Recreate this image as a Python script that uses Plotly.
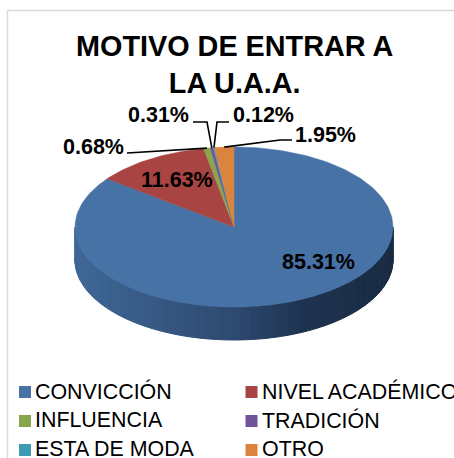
import numpy as np
import plotly.graph_objects as go

categories = ["CONVICCIÓN", "NIVEL ACADÉMICO", "INFLUENCIA", "TRADICIÓN", "ESTA DE MODA", "OTRO"]
values = [85.31, 11.63, 0.68, 0.31, 0.12, 1.95]
colors = ["#4672A6", "#A84442", "#88A64C", "#6F5597", "#3F9AB3", "#DB843D"]
W, H = 454, 458
CX, CY, RX, RY, DEPTH = 234, 227, 159, 80, 33
FONT = "Liberation Sans, Arial, sans-serif"

def pt(pct):
    a = np.asarray(pct) / 100 * 2 * np.pi
    return CX + RX * np.sin(a), CY - RY * np.cos(a)

fig = go.Figure()

# side wall, thin strips shaded by horizontal position
steps = 120
edges = np.linspace(25, 75, steps + 1)
stop_t = [0.0, 0.5, 0.72, 1.0]
stop_r = [64, 46, 30, 26]
stop_g = [104, 74, 51, 44]
stop_b = [152, 112, 80, 68]
for i in range(steps):
    seg = np.linspace(edges[i], edges[i + 1], 3)
    x, y = pt(seg)
    xs = list(x) + list(x[::-1]) + [x[0]]
    ys = list(y + DEPTH) + list(y[::-1]) + [y[0] + DEPTH]
    t = (x.mean() - (CX - RX)) / (2 * RX)
    col = "rgb(%d,%d,%d)" % (np.interp(t, stop_t, stop_r), np.interp(t, stop_t, stop_g), np.interp(t, stop_t, stop_b))
    fig.add_trace(go.Scatter(x=xs, y=ys, mode="lines", fill="toself", fillcolor=col,
                             line=dict(color=col, width=1), hoverinfo="skip", showlegend=False))

# top face slices
cum = np.concatenate([[0], np.cumsum(values)])
cum = cum / cum[-1] * 100
mids = {}
for i, name in enumerate(categories):
    n = max(int(values[i] * 3), 4)
    x, y = pt(np.linspace(cum[i], cum[i + 1], n))
    fig.add_trace(go.Scatter(x=[CX] + list(x) + [CX], y=[CY] + list(y) + [CY], mode="lines", fill="toself",
                             fillcolor=colors[i], line=dict(color=colors[i], width=0.5),
                             name=name, hoverinfo="name", showlegend=False))
    mids[i] = pt((cum[i] + cum[i + 1]) / 2)

# leader lines: label end, elbow, slice edge
leaders = {
    2: [(127, 153)],
    3: [(193, 122), (207, 122)],
    4: [(229, 122), (217, 122)],
    5: [(292, 140), (280, 140)],
}
for i, pts in leaders.items():
    mx, my = mids[i]
    xs = [p[0] for p in pts] + [mx]
    ys = [p[1] for p in pts] + [my]
    fig.add_trace(go.Scatter(x=xs, y=ys, mode="lines", line=dict(color="black", width=1.6),
                             hoverinfo="skip", showlegend=False))

label_pos = [(318, 262), (177, 180), (93, 147), (158, 115), (263, 115), (325, 135)]
for i, (lx, ly) in enumerate(label_pos):
    fig.add_annotation(x=lx, y=ly, text=f"<b>{values[i]:.2f}%</b>", showarrow=False,
                       font=dict(family=FONT, size=21.5, color="black"))

# legend in two columns
col_x = [25, 251.5]
row_y = [392, 421, 450]
for i, name in enumerate(categories):
    lx, ly = col_x[i % 2], row_y[i // 2]
    fig.add_trace(go.Scatter(x=[lx], y=[ly], mode="markers", hoverinfo="skip", showlegend=False,
                             marker=dict(symbol="square", size=12, color=colors[i])))
    fig.add_annotation(x=lx + 8, y=ly - 1, text=name, showarrow=False, xanchor="left",
                       font=dict(family=FONT, size=21.4, color="black"))

fig.add_annotation(x=235, y=64, text="<b>MOTIVO DE ENTRAR A<br>LA U.A.A.</b>", showarrow=False,
                   font=dict(family=FONT, size=28.8, color="black"))

# chart frame, visible along the top and left edges
fig.add_shape(type="line", x0=7.5, x1=7.5, y0=10.5, y1=H, line=dict(color="#D9D9D9", width=1.5))
fig.add_shape(type="line", x0=7.5, x1=W, y0=10.5, y1=10.5, line=dict(color="#D9D9D9", width=1.5))

fig.update_layout(width=W, height=H, margin=dict(l=0, r=0, t=0, b=0), autosize=False,
                  paper_bgcolor="white", plot_bgcolor="white", showlegend=False,
                  xaxis=dict(range=[0, W], visible=False, fixedrange=True),
                  yaxis=dict(range=[H, 0], visible=False, fixedrange=True))
fig.write_html("out.html", config=dict(displayModeBar=False),
               post_script="document.body.style.margin='0';document.body.style.overflow='hidden';")
